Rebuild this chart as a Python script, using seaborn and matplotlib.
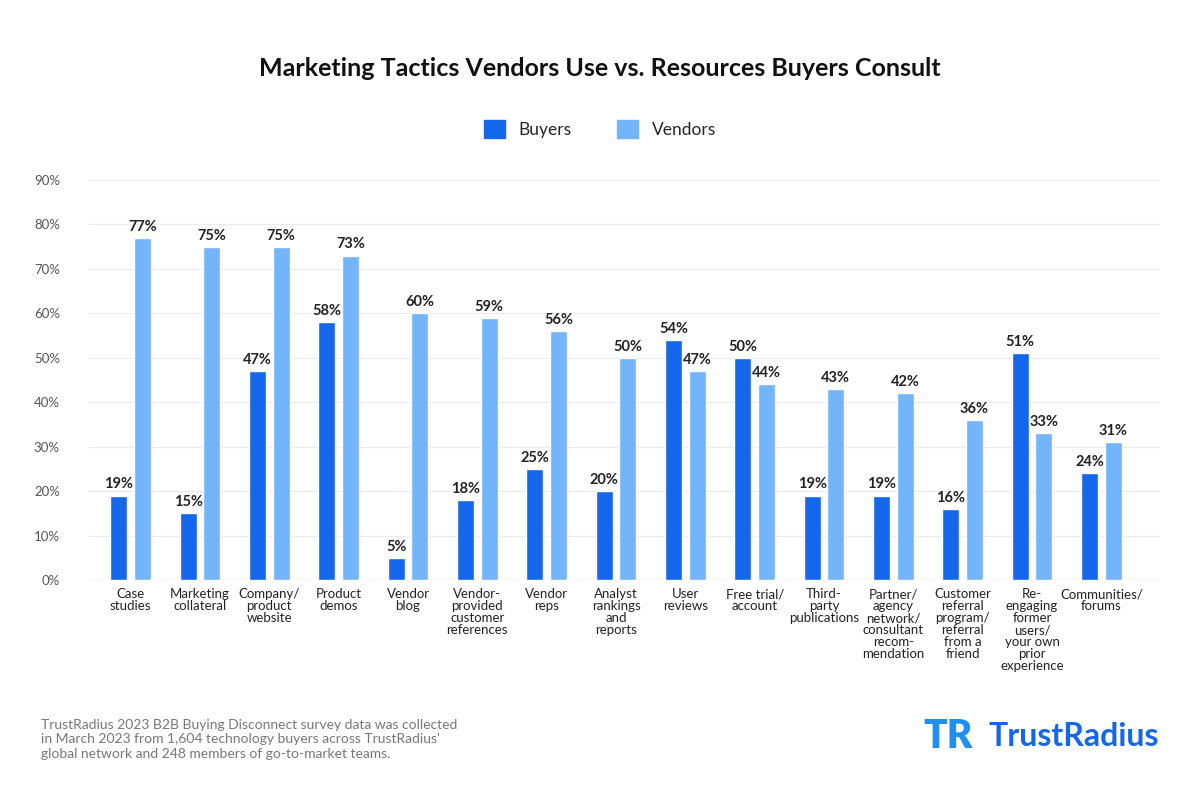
import matplotlib
matplotlib.use("Agg")
import matplotlib.pyplot as plt
import seaborn as sns
import pandas as pd

categories = [
    "Case\nstudies", "Marketing\ncollateral", "Company/\nproduct\nwebsite",
    "Product\ndemos", "Vendor\nblog", "Vendor-\nprovided\ncustomer\nreferences",
    "Vendor\nreps", "Analyst\nrankings\nand\nreports", "User\nreviews",
    "Free trial/\naccount", "Third-\nparty\npublications",
    "Partner/\nagency\nnetwork/\nconsultant\nrecom-\nmendation",
    "Customer\nreferral\nprogram/\nreferral\nfrom a\nfriend",
    "Re-\nengaging\nformer\nusers/\nyour own\nprior\nexperience",
    "Communities/\nforums",
]
buyers = [19, 15, 47, 58, 5, 18, 25, 20, 54, 50, 19, 19, 16, 51, 24]
vendors = [77, 75, 75, 73, 60, 59, 56, 50, 47, 44, 43, 42, 36, 33, 31]
y_ticks = [0, 10, 20, 30, 40, 50, 60, 70, 80, 90]

df = pd.DataFrame({
    "Tactic": categories * 2,
    "Share": buyers + vendors,
    "Group": ["Buyers"] * len(categories) + ["Vendors"] * len(categories),
})

sns.set_theme(style="white")
plt.rcParams["font.family"] = ["Lato", "DejaVu Sans"]

palette = {"Buyers": "#1467EA", "Vendors": "#74B4FB"}

fig = plt.figure(figsize=(12, 8), dpi=100)
ax = fig.add_axes([0.073, 0.275, 0.894, 0.5])
sns.barplot(data=df, x="Tactic", y="Share", hue="Group", order=categories,
            palette=palette, saturation=1, width=0.68, gap=0.28, legend=False, ax=ax)

for cont in ax.containers:
    ax.bar_label(cont, fmt="%g%%", padding=3, fontsize=10.5, fontweight="bold",
                 color="#222222")

ax.set_ylim(0, 90)
ax.set_xlim(-0.62, 14.85)
ax.set_yticks(y_ticks)
ax.set_yticklabels([f"{t}%" for t in y_ticks], fontsize=9.5, color="#555555")
ax.tick_params(axis="x", labelsize=9.5, colors="#222222", length=0, pad=6)
ax.tick_params(axis="y", length=0, pad=20)
ax.yaxis.grid(True, color="#EBEBEB", linewidth=0.8)
ax.set_axisbelow(True)
for s in ax.spines.values():
    s.set_visible(False)
ax.axhline(0, color="#E0E0E0", linewidth=1, zorder=0)
ax.set_xlabel("")
ax.set_ylabel("")
for lbl in ax.get_xticklabels():
    lbl.set_linespacing(1.0)

fig.text(0.5, 0.915, "Marketing Tactics Vendors Use vs. Resources Buyers Consult",
         ha="center", va="center", fontsize=18, fontweight="bold", color="#111111")

# legend
handles = [plt.Rectangle((0, 0), 1, 1, color=palette[k]) for k in ["Buyers", "Vendors"]]
fig.legend(handles, ["Buyers", "Vendors"], loc="center", bbox_to_anchor=(0.5, 0.839),
           ncol=2, frameon=False, fontsize=12.5, handlelength=1.2, handleheight=1.2,
           columnspacing=2.6, handletextpad=0.8)

fig.text(0.034, 0.076,
         "TrustRadius 2023 B2B Buying Disconnect survey data was collected\n"
         "in March 2023 from 1,604 technology buyers across TrustRadius'\n"
         "global network and 248 members of go-to-market teams.",
         ha="left", va="center", fontsize=10, color="#777777", linespacing=1.25)

fig.text(0.966, 0.079, "TrustRadius", ha="right", va="center", fontsize=23,
         fontweight="bold", color="#1467EA")
fig.text(0.79, 0.079, "TR", ha="center", va="center", fontsize=28,
         fontweight="heavy", color="#1E8FF5")

fig.savefig("out.png", dpi=100, facecolor="white")
